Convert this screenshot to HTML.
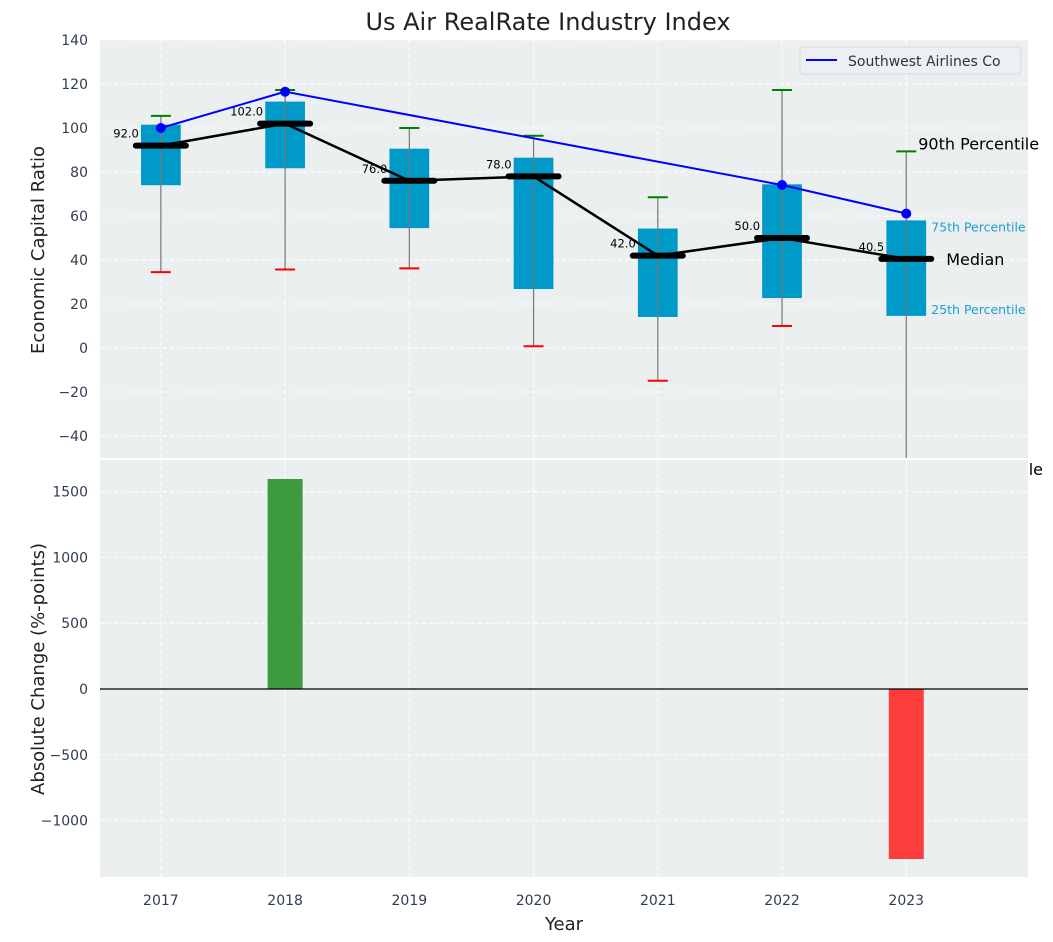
<!DOCTYPE html>
<html><head><meta charset="utf-8"><style>
html,body{margin:0;padding:0;background:#fff;}
svg{display:block;font-family:"DejaVu Sans","Liberation Sans",sans-serif;}
</style></head><body>
<svg id="chart" width="1053" height="942" viewBox="0 0 1053 942"></svg>
<script>
const years=[2017,2018,2019,2020,2021,2022,2023];
const p10=[34.5,35.7,36.2,0.8,-14.9,10,-60];
const p25=[74,81.7,54.5,26.8,14.1,22.7,14.6];
const medians=[92,102,76,78,42,50,40.5];
const p75=[101.5,112,90.6,86.5,54.3,74.4,58];
const p90=[105.5,117.3,100,96.5,68.5,117.3,89.4];
const swYears=[2017,2018,2022,2023];
const swValues=[100,116.5,74.1,61.1];
const changeYears=[2018,2023];
const changeValues=[1596,-1292];
const topTicks=[-40,-20,0,20,40,60,80,100,120,140];
const botTicks=[-1000,-500,0,500,1000,1500];

const NS="http://www.w3.org/2000/svg";
const svg=document.getElementById('chart');
function el(tag,attrs,parent,text){const e=document.createElementNS(NS,tag);for(const k in attrs)e.setAttribute(k,attrs[k]);if(text!==undefined)e.textContent=text;(parent||svg).appendChild(e);return e;}
const X0=100,X1=1028;
const xs=v=>X0+(v-2016.51)/(2023.98-2016.51)*(X1-X0);
const T0=40,T1=458;
const yt=v=>T0+(140-v)*(T1-T0)/190;
const B0=460,B1=877;
const yb=v=>689-v*65.8/500;

let g=el('rect',{x:X0,y:T0,width:X1-X0,height:T1-T0,fill:'#eceff0'});

const grid=el('g',{stroke:'#fff','stroke-dasharray':'4,3','stroke-width':1});

topTicks.forEach(t=>el('line',{x1:X0,x2:X1,y1:yt(t),y2:yt(t)},grid));
years.forEach(y=>el('line',{x1:xs(y),x2:xs(y),y1:T0,y2:T1},grid));
const tt=el('g',{fill:'#2f3e50','font-size':14,'text-anchor':'end'});

topTicks.forEach(t=>el('text',{x:X0-12,y:yt(t)+5},tt,t<0?'\u2212'+(-t):String(t)));

years.forEach((yr,i)=>{
  const cx=xs(yr),hw=0.16*124.2;
  const b=el('rect',{x:cx-hw,y:yt(p75[i]),width:2*hw,height:yt(p25[i])-yt(p75[i]),fill:'#009ac9'});
  
  const w=el('line',{x1:cx,x2:cx,y1:yt(p90[i]),y2:Math.min(yt(p10[i]),T1),stroke:'#777','stroke-width':1.2});
  
  const hi=el('line',{x1:cx-10,x2:cx+10,y1:yt(p90[i]),y2:yt(p90[i]),stroke:'green','stroke-width':2});
  
  if(yt(p10[i])<T1){const lo=el('line',{x1:cx-10,x2:cx+10,y1:yt(p10[i]),y2:yt(p10[i]),stroke:'red','stroke-width':2});
  }
});
const ml=el('polyline',{points:years.map((y,i)=>xs(y)+','+yt(medians[i])).join(' '),fill:'none',stroke:'#000','stroke-width':2.5});

years.forEach((yr,i)=>{
  const cx=xs(yr);
  const m=el('line',{x1:cx-25,x2:cx+25,y1:yt(medians[i]),y2:yt(medians[i]),stroke:'#000','stroke-width':6,'stroke-linecap':'round'});
  
  const l=el('text',{x:cx-22,y:yt(medians[i])-8,'font-size':11.5,'text-anchor':'end',fill:'#000'},svg,medians[i].toFixed(1));
  
});
const sw=el('polyline',{points:swYears.map((y,i)=>xs(y)+','+yt(swValues[i])).join(' '),fill:'none',stroke:'#0000ff','stroke-width':2});

swYears.forEach((y,i)=>{const c=el('circle',{cx:xs(y),cy:yt(swValues[i]),r:5,fill:'#0000ff'});
});
const lx=xs(2023);
let a=el('text',{x:lx+12,y:yt(p90[6])-2,'font-size':16,fill:'#000'},svg,'90th Percentile');
a=el('text',{x:lx+25,y:yt(p75[6])+11,'font-size':12.5,fill:'#1a9fd0'},svg,'75th Percentile');
a=el('text',{x:lx+40,y:yt(medians[6])+6,'font-size':16,fill:'#000'},svg,'Median');
a=el('text',{x:lx+25,y:yt(p25[6])-2,'font-size':12.5,fill:'#1a9fd0'},svg,'25th Percentile');
a=el('text',{x:1043,y:475,'font-size':16,fill:'#000','text-anchor':'end'},svg,'10th Percentile');

const lg=el('g',{});
el('rect',{x:800,y:47,width:221,height:27,rx:3,fill:'#eceff3',stroke:'#d8d8d8'},lg);
el('line',{x1:806,x2:837,y1:60,y2:60,stroke:'#0000ff','stroke-width':2},lg);
el('text',{x:848,y:66,'font-size':14,fill:'#333'},lg,'Southwest Airlines Co');

g=el('rect',{x:X0,y:B0,width:X1-X0,height:B1-B0,fill:'#eceff0'});

const grid2=el('g',{stroke:'#fff','stroke-dasharray':'4,3','stroke-width':1});

botTicks.forEach(t=>el('line',{x1:X0,x2:X1,y1:yb(t),y2:yb(t)},grid2));
years.forEach(y=>el('line',{x1:xs(y),x2:xs(y),y1:B0,y2:B1},grid2));
const bt=el('g',{fill:'#2f3e50','font-size':14,'text-anchor':'end'});

botTicks.forEach(t=>el('text',{x:X0-12,y:yb(t)+5},bt,t<0?'\u2212'+(-t):String(t)));
changeYears.forEach((y,i)=>{const v=changeValues[i];
const r=el('rect',{x:xs(y)-17.5,width:35,y:Math.min(yb(v),yb(0)),height:Math.abs(yb(v)-yb(0)),fill:v>=0?'#3d9a3d':'#fd3c3c'});
});
const zl=el('line',{x1:X0,x2:X1,y1:yb(0),y2:yb(0),stroke:'#000','stroke-width':1.2});

const xt=el('g',{fill:'#2f3e50','font-size':14,'text-anchor':'middle'});

years.forEach(y=>el('text',{x:xs(y),y:905},xt,String(y)));

a=el('text',{x:548,y:30,'font-size':24,fill:'#222','text-anchor':'middle'},svg,'Us Air RealRate Industry Index');
a=el('text',{x:564,y:930,'font-size':18,fill:'#222','text-anchor':'middle'},svg,'Year');
a=el('text',{x:0,y:0,'font-size':18,fill:'#222','text-anchor':'middle',transform:'translate(44,250) rotate(-90)'},svg,'Economic Capital Ratio');
a=el('text',{x:0,y:0,'font-size':18,fill:'#222','text-anchor':'middle',transform:'translate(44,669) rotate(-90)'},svg,'Absolute Change (%-points)');
</script>
</body></html>
